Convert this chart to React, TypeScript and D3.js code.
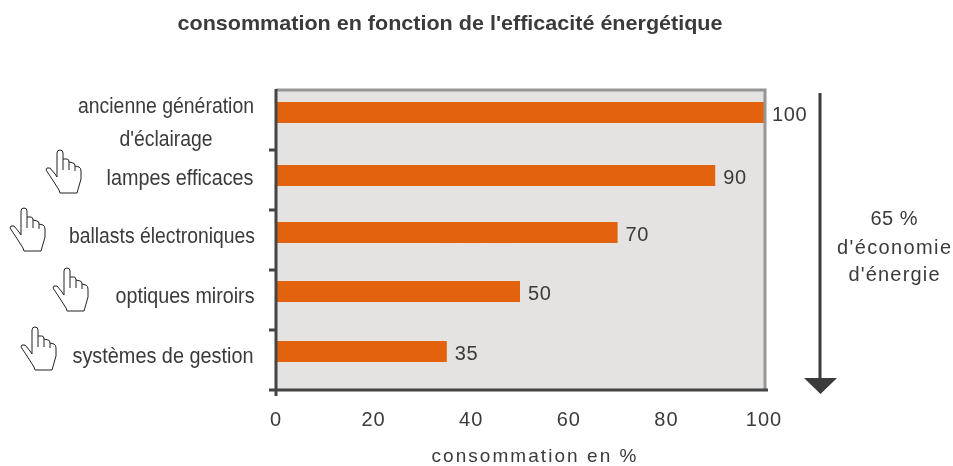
import React, { useEffect, useRef } from "react";
import * as d3 from "d3";

const categories = [
  "ancienne génération",
  "lampes efficaces",
  "ballasts électroniques",
  "optiques miroirs",
  "systèmes de gestion",
];
const values = [100, 90, 70, 50, 35];
const xTicks = [0, 20, 40, 60, 80, 100];
const savingLines = ["65 %", "d'économie", "d'énergie"];

const ORANGE = "#e2620a";
const TEXT = "#3a3a3a";
const FONT = "'Liberation Sans', Arial, sans-serif";

const handPath =
  "M11,27 L11,3 Q11,0 14,0 Q17,0 17,3 L17,9 L21,9 Q23,9 23,12 L27,13 Q29,13 29,16 L33,17 Q35,18 35,21 L35,29 L31,43 L14,43 L13,40 L6,29 L0,20 L1,18 L4,18 L9,24 Z " +
  "M17,9 L17,20 M23,12 L23,20 M29,16 L29,21";

const handPlacement = [
  { left: 46, top: 150 },
  { left: 10, top: 208 },
  { left: 53, top: 268 },
  { left: 21, top: 327 },
];

// the source image does not space its bars quite evenly
const barNudge = [0, 3, 0, -1, -1];

export default function App() {
  const svgRef = useRef<SVGSVGElement | null>(null);

  useEffect(() => {
    const svgElement = svgRef.current;
    if (!svgElement) return;
    const svg = d3.select(svgElement);
    svg.selectAll("*").remove();

    const defs = svg.append("defs");
    defs
      .append("filter")
      .attr("id", "soft")
      .append("feGaussianBlur")
      .attr("stdDeviation", 0.4);

    const root = svg.append("g").attr("filter", "url(#soft)");

    const x = d3.scaleLinear().domain([0, 100]).range([276, 764]);
    const y = d3.scaleBand<string>().domain(categories).range([90, 390]);
    const barHeight = 21;
    const barOffset = 12; // bars sit above the centre of their band
    const barTop = (i: number) => y(categories[i])! + barOffset + barNudge[i];

    root
      .append("text")
      .attr("x", 450)
      .attr("y", 30)
      .attr("text-anchor", "middle")
      .attr("font-family", FONT)
      .attr("font-size", 21)
      .attr("font-weight", "bold")
      .attr("fill", TEXT)
      .attr("textLength", 545)
      .attr("lengthAdjust", "spacingAndGlyphs")
      .text("consommation en fonction de l'efficacité énergétique");

    root
      .append("rect")
      .attr("x", x(0))
      .attr("y", 90)
      .attr("width", x(100) - x(0))
      .attr("height", 300)
      .attr("fill", "#e4e3e1");

    root
      .selectAll("rect.bar")
      .data(values)
      .enter()
      .append("rect")
      .attr("class", "bar")
      .attr("x", x(0))
      .attr("y", (_, i) => barTop(i))
      .attr("width", (d) => x(d) - x(0))
      .attr("height", barHeight)
      .attr("fill", ORANGE);

    // faint specks along the lower edge of the 70 bar
    root
      .append("line")
      .attr("x1", x(34))
      .attr("x2", x(48))
      .attr("y1", 243.5)
      .attr("y2", 243.5)
      .attr("stroke", "#f0d8c8")
      .attr("stroke-width", 1)
      .attr("stroke-dasharray", "3 5 3 14 3 2 3 2 3 14 3");

    root
      .selectAll("text.value")
      .data(values)
      .enter()
      .append("text")
      .attr("class", "value")
      .attr("x", (d) => x(d) + 8)
      .attr("y", (_, i) => barTop(i) + barHeight / 2 + 8)
      .attr("font-family", FONT)
      .attr("font-size", 20)
      .attr("letter-spacing", 0.6)
      .attr("fill", TEXT)
      .text((d) => d);

    // frame: grey top and right, dark left and bottom
    root
      .append("path")
      .attr("d", `M${x(0)},90 H${x(100) + 1} V390`)
      .attr("fill", "none")
      .attr("stroke", "#969696")
      .attr("stroke-width", 3);
    root
      .append("path")
      .attr("d", `M${x(0)},89 V396 M${x(0) - 7},390 H${x(100) + 4}`)
      .attr("fill", "none")
      .attr("stroke", "#444444")
      .attr("stroke-width", 3);

    // y ticks on band edges
    root
      .selectAll("line.ytick")
      .data(categories.slice(1))
      .enter()
      .append("line")
      .attr("class", "ytick")
      .attr("x1", x(0) - 7)
      .attr("x2", x(0))
      .attr("y1", (d) => y(d)!)
      .attr("y2", (d) => y(d)!)
      .attr("stroke", "#444444")
      .attr("stroke-width", 3);

    root
      .selectAll("text.xtick")
      .data(xTicks)
      .enter()
      .append("text")
      .attr("class", "xtick")
      .attr("x", (d) => x(d))
      .attr("y", 426)
      .attr("text-anchor", "middle")
      .attr("font-family", FONT)
      .attr("font-size", 20)
      .attr("letter-spacing", 1)
      .attr("fill", TEXT)
      .text((d) => d);

    root
      .append("text")
      .attr("x", 534)
      .attr("y", 462)
      .attr("text-anchor", "middle")
      .attr("font-family", FONT)
      .attr("font-size", 19)
      .attr("fill", TEXT)
      .attr("textLength", 205)
      .text("consommation en %");

    // category labels
    const labelRows = [
      { text: categories[0], cx: 166, baseline: 113, length: 176 },
      { text: "d'éclairage", cx: 166, baseline: 146, length: 93 },
      { text: categories[1], cx: 180, baseline: 185, length: 147 },
      { text: categories[2], cx: 162, baseline: 243, length: 186 },
      { text: categories[3], cx: 185, baseline: 303, length: 139 },
      { text: categories[4], cx: 163, baseline: 363, length: 181 },
    ];
    root
      .selectAll("text.cat")
      .data(labelRows)
      .enter()
      .append("text")
      .attr("class", "cat")
      .attr("x", (d) => d.cx)
      .attr("y", (d) => d.baseline)
      .attr("text-anchor", "middle")
      .attr("font-family", FONT)
      .attr("font-size", 22)
      .attr("fill", TEXT)
      .attr("textLength", (d) => d.length)
      .attr("lengthAdjust", "spacingAndGlyphs")
      .text((d) => d.text);

    // hands
    root
      .selectAll("path.hand")
      .data(handPlacement)
      .enter()
      .append("path")
      .attr("class", "hand")
      .attr("d", handPath)
      .attr("transform", (d) => `translate(${d.left},${d.top})`)
      .attr("fill", "#ffffff")
      .attr("stroke", "#222222")
      .attr("stroke-width", 1);

    // saving arrow
    root
      .append("line")
      .attr("x1", 820)
      .attr("x2", 820)
      .attr("y1", 93)
      .attr("y2", 382)
      .attr("stroke", "#3a3a3a")
      .attr("stroke-width", 3);
    root
      .append("path")
      .attr("d", "M804,378 H837 L820.5,394 Z")
      .attr("fill", "#3a3a3a");

    const savingRows = [
      { baseline: 225, length: 47 },
      { baseline: 254, length: 114 },
      { baseline: 281, length: 91 },
    ];
    root
      .selectAll("text.saving")
      .data(savingLines)
      .enter()
      .append("text")
      .attr("class", "saving")
      .attr("x", 894)
      .attr("y", (_, i) => savingRows[i].baseline)
      .attr("text-anchor", "middle")
      .attr("font-family", FONT)
      .attr("font-size", 20)
      .attr("fill", TEXT)
      .attr("textLength", (_, i) => savingRows[i].length)
      .text((d) => d);
  }, []);

  return (
    <svg
      ref={svgRef}
      width={953}
      height={466}
      style={{ position: "absolute", left: 0, top: 0, background: "#fff" }}
    />
  );
}
